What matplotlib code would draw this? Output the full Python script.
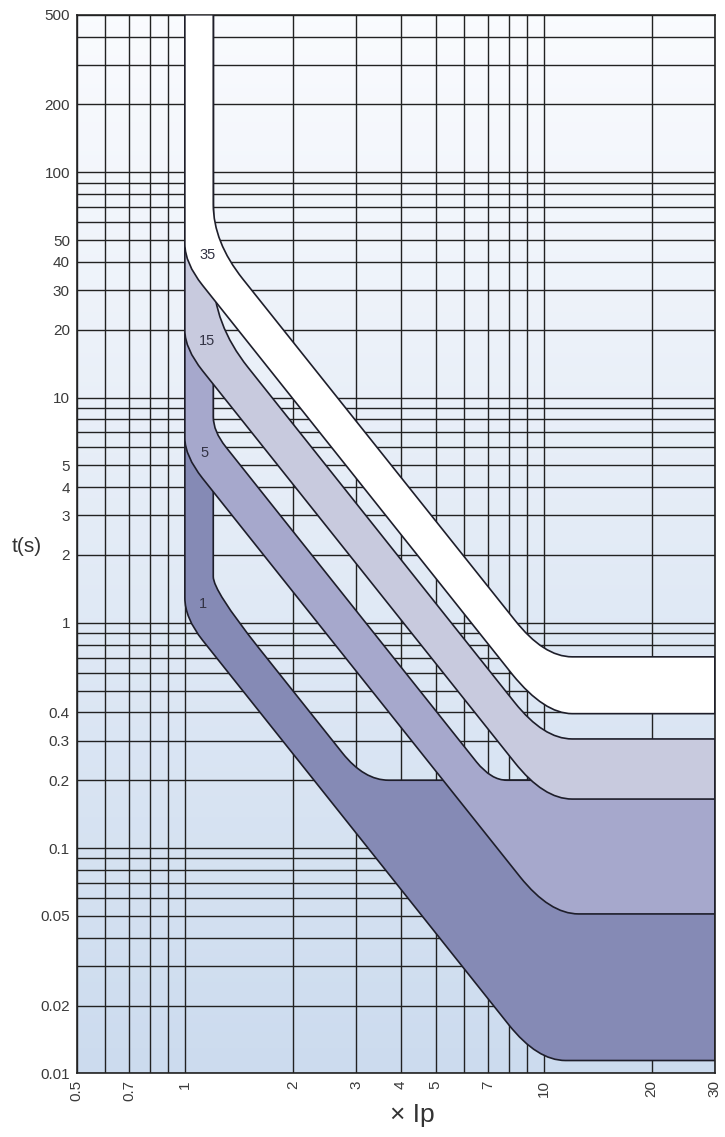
import numpy as np
import matplotlib
matplotlib.use("Agg")
import matplotlib.pyplot as plt
from matplotlib.path import Path
from matplotlib.patches import PathPatch

plt.rcParams['font.family'] = ['Liberation Sans', 'DejaVu Sans']

# axis grid / ticks
x_grid = [0.5, 0.6, 0.7, 0.8, 0.9, 1, 2, 3, 4, 5, 6, 7, 8, 9, 10, 20, 30]
x_labels = ['0.5', '', '0.7', '', '', '1', '2', '3', '4', '5', '', '7', '', '', '10', '20', '30']
y_grid = [0.01, 0.02, 0.03, 0.04, 0.05, 0.06, 0.07, 0.08, 0.09,
          0.1, 0.2, 0.3, 0.4, 0.5, 0.6, 0.7, 0.8, 0.9,
          1, 2, 3, 4, 5, 6, 7, 8, 9,
          10, 20, 30, 40, 50, 60, 70, 80, 90,
          100, 200, 300, 400, 500]
y_labeled = [0.01, 0.02, 0.05, 0.1, 0.2, 0.3, 0.4, 1, 2, 3, 4, 5,
             10, 20, 30, 40, 50, 100, 200, 500]

# band curves (x = multiple of Ip, t in s)
# every curve: start, line, corner, end of bend, line, corner, end of bend, end
upper_35_x = [1.2, 1.2, 1.2, 1.45, 8.3, 10.0, 12.0, 30]
upper_35_t = [500, 72, 49, 33.6, 1.03, 0.706, 0.706, 0.706]
lower_35_x = [1, 1, 1, 1.12, 8.2, 10.05, 12.0, 30]
lower_35_t = [500, 48, 39.5, 31.5, 0.587, 0.395, 0.395, 0.395]

upper_15_x = [1.2, 1.2, 1.2, 1.5, 8.3, 10.0, 12.0, 30]
upper_15_t = [500, 35, 21.2, 13.6, 0.443, 0.305, 0.305, 0.305]
lower_15_x = [1, 1, 1, 1.12, 8.3, 10.0, 12.0, 30]
lower_15_t = [500, 19.8, 16.5, 13.15, 0.24, 0.165, 0.165, 0.165]

upper_5_x = [1.2, 1.2, 1.2, 1.3, 6.5, 7.14, 7.9, 30]
upper_5_t = [500, 8.2, 7.08, 6.04, 0.241, 0.2, 0.2, 0.2]
lower_5_x = [1, 1, 1, 1.12, 8.6, 10.4, 12.5, 30]
lower_5_t = [500, 6.6, 5.5, 4.38, 0.0744, 0.051, 0.051, 0.051]

upper_1_x = [1.2, 1.2, 1.2, 1.6, 2.75, 3.16, 3.7, 30]
upper_1_t = [500, 1.6, 1.39, 0.78, 0.264, 0.2, 0.2, 0.2]
lower_1_x = [1, 1, 1, 1.12, 8.0, 9.6, 11.5, 30]
lower_1_t = [500, 1.29, 1.05, 0.837, 0.0164, 0.0114, 0.0114, 0.0114]

band_names = ['1', '5', '15', '35']
band_colors = ['#858ab5', '#a6a8cc', '#c8cade', '#ffffff']
label_x = [1.12, 1.135, 1.155, 1.16]
label_t = [1.21, 5.7, 17.9, 42.8]

seg_codes = [Path.MOVETO, Path.LINETO, Path.CURVE3, Path.CURVE3,
             Path.LINETO, Path.CURVE3, Path.CURVE3, Path.LINETO]


def band_path(ux, ut, lx, lt):
    n = len(seg_codes)
    verts = list(zip(ux, ut)) + list(zip(lx, lt))[::-1] + [(ux[0], ut[0])]
    codes = list(seg_codes) + [Path.LINETO] + [seg_codes[n - j] for j in range(1, n)]
    codes.append(Path.CLOSEPOLY)
    return Path(verts, codes)


fig = plt.figure(figsize=(7.25, 11.37), dpi=100)
ax = fig.add_axes([0.106, 0.056, 0.88, 0.931])
ax.set_xscale('log')
ax.set_yscale('log')
ax.set_xlim(0.5, 30)
ax.set_ylim(0.01, 500)

# background gradient
grad = np.linspace(0, 1, 256).reshape(-1, 1)
top = np.array([0.98, 0.985, 0.997])
bot = np.array([0.80, 0.86, 0.935])
img = bot + (top - bot) * grad
ax.imshow(img[:, None, :].repeat(2, axis=1), extent=[0, 1, 0, 1], origin='lower',
          transform=ax.transAxes, aspect='auto', zorder=0)

ax.set_xticks(x_grid)
ax.set_xticklabels(x_labels, rotation=90)
ax.set_yticks(y_grid)
ax.set_yticklabels(['%g' % v if v in y_labeled else '' for v in y_grid])
ax.minorticks_off()
ax.tick_params(length=0, labelsize=11, labelcolor='#3a3a3a', pad=5)
ax.grid(True, color='#222222', linewidth=1.0)
ax.set_axisbelow(True)
for s in ax.spines.values():
    s.set_linewidth(1.2)
    s.set_color('#222222')

uppers = [(upper_1_x, upper_1_t), (upper_5_x, upper_5_t), (upper_15_x, upper_15_t), (upper_35_x, upper_35_t)]
lowers = [(lower_1_x, lower_1_t), (lower_5_x, lower_5_t), (lower_15_x, lower_15_t), (lower_35_x, lower_35_t)]
for i in range(len(band_names)):
    p = band_path(uppers[i][0], uppers[i][1], lowers[i][0], lowers[i][1])
    ax.add_patch(PathPatch(p, facecolor=band_colors[i], edgecolor='#1e1e2a',
                           linewidth=1.2, zorder=2 + i, transform=ax.transData))
    ax.text(label_x[i], label_t[i], band_names[i], fontsize=10.5, color='#333344',
            ha='center', va='center', zorder=10)

fig.text(27 / 725, 1 - 547 / 1137, 't(s)', fontsize=15, color='#333333',
         ha='center', va='center')
fig.text(412 / 725, 1 - 1115 / 1137, '× Ip', fontsize=19, color='#333333',
         ha='center', va='center')

fig.savefig('out.png', dpi=100)
